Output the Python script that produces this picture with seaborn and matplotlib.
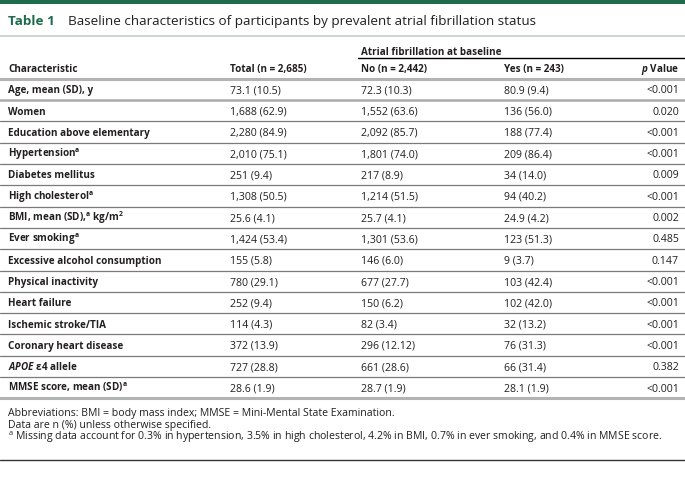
import matplotlib
matplotlib.use('Agg')
import matplotlib.pyplot as plt
import seaborn as sns

# Table content
characteristics = [
    'Age, mean (SD), y',
    'Women',
    'Education above elementary',
    r'Hypertension$^{\mathbf{a}}$',
    'Diabetes mellitus',
    r'High cholesterol$^{\mathbf{a}}$',
    r'BMI, mean (SD),$^{\mathbf{a}}$ kg/m$^{\mathbf{2}}$',
    r'Ever smoking$^{\mathbf{a}}$',
    'Excessive alcohol consumption',
    'Physical inactivity',
    'Heart failure',
    'Ischemic stroke/TIA',
    'Coronary heart disease',
    r'$\mathit{APOE}$ ε4 allele',
    r'MMSE score, mean (SD)$^{\mathbf{a}}$',
]
total = ['73.1 (10.5)', '1,688 (62.9)', '2,280 (84.9)', '2,010 (75.1)', '251 (9.4)',
         '1,308 (50.5)', '25.6 (4.1)', '1,424 (53.4)', '155 (5.8)', '780 (29.1)',
         '252 (9.4)', '114 (4.3)', '372 (13.9)', '727 (28.8)', '28.6 (1.9)']
af_no = ['72.3 (10.3)', '1,552 (63.6)', '2,092 (85.7)', '1,801 (74.0)', '217 (8.9)',
         '1,214 (51.5)', '25.7 (4.1)', '1,301 (53.6)', '146 (6.0)', '677 (27.7)',
         '150 (6.2)', '82 (3.4)', '296 (12.12)', '661 (28.6)', '28.7 (1.9)']
af_yes = ['80.9 (9.4)', '136 (56.0)', '188 (77.4)', '209 (86.4)', '34 (14.0)',
          '94 (40.2)', '24.9 (4.2)', '123 (51.3)', '9 (3.7)', '103 (42.4)',
          '102 (42.0)', '32 (13.2)', '76 (31.3)', '66 (31.4)', '28.1 (1.9)']
p_values = ['<0.001', '0.020', '<0.001', '<0.001', '0.009', '<0.001', '0.002', '0.485',
            '0.147', '<0.001', '<0.001', '<0.001', '<0.001', '0.382', '<0.001']
headers = ['Characteristic', 'Total (n = 2,685)', 'No (n = 2,442)', 'Yes (n = 243)']
footnotes = [
    'Abbreviations: BMI = body mass index; MMSE = Mini-Mental State Examination.',
    'Data are n (%) unless otherwise specified.',
    r'$^{\mathrm{a}}$ Missing data account for 0.3% in hypertension, 3.5% in high cholesterol, '
    '4.2% in BMI, 0.7% in ever smoking, and 0.4% in MMSE score.',
]

sns.set_theme(style='white')
plt.rcParams['font.family'] = ['Open Sans', 'DejaVu Sans']
plt.rcParams['mathtext.fontset'] = 'custom'
plt.rcParams['mathtext.rm'] = 'Open Sans'
plt.rcParams['mathtext.bf'] = 'Open Sans:bold'
plt.rcParams['mathtext.it'] = 'Open Sans:italic:bold'

GREEN = '#1f6b4e'
TXT = '#231f20'
FS = 7.6      # regular text
FS_B = 7.1    # bold labels (reference bold face is narrow)
DY = 3.8      # baseline offset from row centre

fig = plt.figure(figsize=(6.85, 4.91), dpi=100)
ax = fig.add_axes([0, 0, 1, 1])
ax.set_xlim(0, 685)
ax.set_ylim(491, 0)
ax.axis('off')

# top band and title
ax.axhspan(0, 4, color=GREEN, lw=0)
ax.text(8, 24.5, 'Table 1', color=GREEN, fontsize=9.7, fontweight='bold', va='baseline')
ax.text(68, 24.5, 'Baseline characteristics of participants by prevalent atrial fibrillation status',
        color=TXT, fontsize=9.7, va='baseline')
ax.axhline(36, color='#bfcfc8', lw=1.2)

# headers
col_x = [8, 230, 361, 504]
ax.text(361, 51 + DY, 'Atrial fibrillation at baseline', fontsize=FS_B, fontweight='bold',
        color=TXT, va='baseline')
ax.plot([358, 685], [58, 58], color='black', lw=1.0)
for x, h in zip(col_x, headers):
    ax.text(x, 68 + DY, h, fontsize=FS_B, fontweight='bold', color=TXT, va='baseline')
ax.text(679, 68 + DY, r'$\mathit{p}$ Value', fontsize=FS_B, fontweight='bold', color=TXT,
        va='baseline', ha='right')
ax.axhline(79, color='#b3b3b3', lw=2.2)

# body rows
row_h = 21.3
y0 = 89.5
for i in range(len(characteristics)):
    y = y0 + i * row_h + DY
    ax.text(col_x[0], y, characteristics[i], fontsize=FS_B, fontweight='bold', color=TXT, va='baseline')
    ax.text(col_x[1], y, total[i], fontsize=FS, color=TXT, va='baseline')
    ax.text(col_x[2], y, af_no[i], fontsize=FS, color=TXT, va='baseline')
    ax.text(col_x[3], y, af_yes[i], fontsize=FS, color=TXT, va='baseline')
    ax.text(679, y, p_values[i], fontsize=FS, color=TXT, va='baseline', ha='right')
    if i < len(characteristics) - 1:
        sep = y0 + (i + 0.5) * row_h
        if i == 0:
            ax.axhline(sep, color='#ababab', lw=1.8)
        else:
            ax.axhline(sep, color='#7a7a7a', lw=0.9)
ax.axhline(y0 + (len(characteristics) - 0.5) * row_h, color='#b3b3b3', lw=2.2)

# footnotes
for j, note in enumerate(footnotes):
    ax.text(8, 412 + j * 12 + DY, note, fontsize=FS, color=TXT, va='baseline')
ax.axhline(460, color='#333333', lw=1.0)

plt.savefig('out.png', dpi=100)
